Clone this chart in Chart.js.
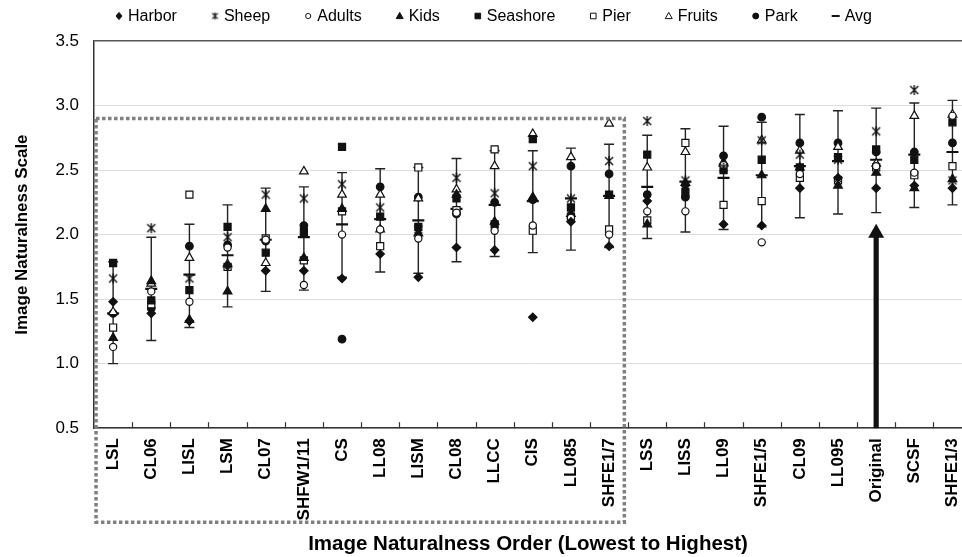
<!DOCTYPE html>
<html>
<head>
<meta charset="utf-8">
<script src="https://cdn.jsdelivr.net/npm/chart.js@4.4.1/dist/chart.umd.min.js"></script>
<style>
  html, body { margin: 0; padding: 0; background: #fff; }
  #wrap { width: 962px; height: 557px; position: relative; }
</style>
</head>
<body>
<div id="wrap"><canvas id="c"></canvas></div>
<script>
// Image conditions, ordered from least to most natural
const categories = ['LSL', 'CL06', 'LISL', 'LSM', 'CL07', 'SHFW1/11', 'CS', 'LL08', 'LISM', 'CL08', 'LLCC', 'CIS', 'LL085', 'SHFE1/7',
                    'LSS', 'LISS', 'LL09', 'SHFE1/5', 'CL09', 'LL095', 'Original', 'SCSF', 'SHFE1/3'];

// Mean naturalness rating per scene
const harbor   = [1.48, 1.39, 1.33, 1.76, 1.72, 1.72, 1.66, 1.85, 1.67, 1.90, 1.88, 1.36, 2.10, 1.91, 2.26, 2.38, 2.08, 2.07, 2.36, 2.44, 2.36, 2.38, 2.36];
const sheep    = [1.66, 2.05, 1.66, 1.98, 2.31, 2.28, 2.39, 2.21, 2.04, 2.44, 2.32, 2.53, 2.28, 2.57, 2.88, 2.42, 2.52, 2.73, 2.62, 2.58, 2.80, 3.12, 2.42];
const adults   = [1.13, 1.56, 1.48, 1.90, 1.96, 1.61, 2.00, 2.04, 1.97, 2.17, 2.03, 2.07, 2.13, 2.00, 2.18, 2.18, 2.54, 1.94, 2.47, 2.43, 2.53, 2.48, 2.92];
const kids     = [1.20, 1.64, 1.34, 1.56, 2.20, 1.82, 2.20, 2.04, 2.01, 2.31, 2.10, 2.29, 2.16, 2.30, 2.08, 2.40, 2.56, 2.46, 2.52, 2.38, 2.48, 2.36, 2.43];
const seashore = [1.78, 1.49, 1.57, 2.06, 1.86, 2.02, 2.68, 2.14, 2.06, 2.28, 2.08, 2.74, 2.21, 2.31, 2.62, 2.33, 2.50, 2.58, 2.52, 2.60, 2.66, 2.58, 2.87];
const pier     = [1.28, 1.46, 2.31, 1.75, 1.97, 1.80, 2.18, 1.91, 2.52, 2.19, 2.66, 2.03, 2.14, 2.04, 2.11, 2.71, 2.23, 2.26, 2.44, 2.42, 2.52, 2.46, 2.53];
const fruits   = [1.40, 1.62, 1.82, 1.77, 1.78, 2.49, 2.31, 2.31, 2.28, 2.35, 2.53, 2.78, 2.60, 2.86, 2.52, 2.64, 2.55, 2.73, 2.65, 2.68, 2.55, 2.92, 2.93];
const park     = [1.39, 1.43, 1.91, 1.92, 1.95, 2.07, 1.19, 2.37, 2.29, 2.16, 2.25, 2.27, 2.53, 2.47, 2.31, 2.29, 2.61, 2.91, 2.71, 2.71, 2.64, 2.64, 2.71];

// Average over all scenes with the ends of its interval
const avg      = [1.39, 1.58, 1.69, 1.84, 1.96, 1.98, 2.08, 2.12, 2.11, 2.20, 2.23, 2.26, 2.28, 2.30, 2.37, 2.41, 2.44, 2.46, 2.53, 2.57, 2.58, 2.62, 2.64];
const errHigh  = [1.79, 1.98, 2.08, 2.23, 2.36, 2.37, 2.48, 2.51, 2.52, 2.59, 2.65, 2.65, 2.67, 2.70, 2.77, 2.82, 2.84, 2.87, 2.93, 2.96, 2.98, 3.02, 3.04];
const errLow   = [1.00, 1.18, 1.28, 1.44, 1.56, 1.57, 1.67, 1.71, 1.70, 1.79, 1.83, 1.86, 1.88, 1.90, 1.97, 2.02, 2.04, 2.06, 2.13, 2.16, 2.17, 2.21, 2.23];

const yTicks = [0.5, 1.0, 1.5, 2.0, 2.5, 3.0, 3.5];

// Marked group of low-naturalness conditions and the pointer to the original image
const groupLastIndex = 13;
const groupTopValue = 2.9;
const arrowIndex = categories.indexOf('Original');
const arrowTipValue = 2.085;

const FONT = "'Liberation Sans', Arial, sans-serif";
const INK = '#111';

function starCanvas(size, lw) {
  const c = document.createElement('canvas');
  c.width = size; c.height = size;
  const g = c.getContext('2d');
  const m = size / 2, r = size / 2 - 1;
  const d = r * 0.8;
  g.strokeStyle = INK; g.lineWidth = lw; g.lineCap = 'butt';
  g.beginPath();
  g.moveTo(m - d, m - d); g.lineTo(m + d, m + d);
  g.moveTo(m + d, m - d); g.lineTo(m - d, m + d);
  g.moveTo(m, m - r); g.lineTo(m, m + r);
  g.stroke();
  return c;
}
const starBig = starCanvas(12, 1.4);
const starSmall = starCanvas(9, 1.2);

const toPoints = arr => arr.map((v, i) => ({ x: i, y: v }));

function series(label, values, style, filled, radius) {
  return {
    label,
    data: toPoints(values),
    pointStyle: style,
    pointRadius: radius,
    pointHoverRadius: radius,
    pointBorderWidth: 1.2,
    borderColor: INK,
    backgroundColor: filled ? INK : '#fff',
    pointBackgroundColor: filled ? INK : '#fff',
    pointBorderColor: INK,
    showLine: false
  };
}

const datasets = [
  series('Harbor', harbor, 'rectRot', true, 4.2),
  series('Sheep', sheep, starBig, true, 5),
  series('Adults', adults, 'circle', false, 3.6),
  series('Kids', kids, 'triangle', true, 5),
  series('Seashore', seashore, 'rect', true, 5),
  series('Pier', pier, 'rect', false, 5),
  series('Fruits', fruits, 'triangle', false, 5),
  series('Park', park, 'circle', true, 3.8),
  Object.assign(series('Avg', avg, 'line', true, 6), { pointBorderWidth: 2.2 })
];

// Small legend marker in the style of each series
function legendMarker(ctx, ds, x, y) {
  const filled = ds.pointBackgroundColor === INK;
  ctx.save();
  ctx.fillStyle = filled ? INK : '#fff';
  ctx.strokeStyle = INK;
  ctx.lineWidth = 1;
  const s = ds.pointStyle;
  ctx.beginPath();
  if (s === starBig) {
    ctx.drawImage(starSmall, x - starSmall.width / 2, y - starSmall.height / 2);
    ctx.restore();
    return;
  } else if (s === 'rectRot') {
    ctx.moveTo(x, y - 3.6); ctx.lineTo(x + 3, y); ctx.lineTo(x, y + 3.6); ctx.lineTo(x - 3, y); ctx.closePath();
  } else if (s === 'circle') {
    ctx.arc(x, y, filled ? 3 : 2.6, 0, Math.PI * 2);
  } else if (s === 'triangle') {
    ctx.moveTo(x, y - 3.6); ctx.lineTo(x + 3.5, y + 2.6); ctx.lineTo(x - 3.5, y + 2.6); ctx.closePath();
  } else if (s === 'rect') {
    ctx.rect(x - 2.8, y - 2.8, 5.6, 5.6);
  } else if (s === 'line') {
    ctx.lineWidth = 2;
    ctx.moveTo(x - 4, y); ctx.lineTo(x + 4, y);
    ctx.stroke();
    ctx.restore();
    return;
  }
  ctx.fill();
  ctx.stroke();
  ctx.restore();
}

// Legend row across the top
const topLegend = {
  id: 'topLegend',
  afterDraw(chart) {
    const { ctx, chartArea } = chart;
    ctx.save();
    ctx.font = '16px ' + FONT;
    ctx.textBaseline = 'middle';
    ctx.textAlign = 'left';
    ctx.fillStyle = '#000';
    const y = 16;
    let x = chartArea.left + 25;
    chart.data.datasets.forEach(ds => {
      legendMarker(ctx, ds, x, y);
      ctx.fillText(ds.label, x + 9, y + 1);
      x += 9 + ctx.measureText(ds.label).width + 38;
    });
    ctx.restore();
  }
};

// Vertical interval bars with caps behind the markers
const errorBars = {
  id: 'errorBars',
  beforeDatasetsDraw(chart) {
    const { ctx, scales: { x, y } } = chart;
    ctx.save();
    ctx.strokeStyle = '#222';
    ctx.lineWidth = 1.4;
    avg.forEach((v, i) => {
      const px = x.getPixelForValue(i);
      const top = y.getPixelForValue(errHigh[i]);
      const bot = y.getPixelForValue(errLow[i]);
      ctx.beginPath();
      ctx.moveTo(px, top); ctx.lineTo(px, bot);
      ctx.moveTo(px - 5, top); ctx.lineTo(px + 5, top);
      ctx.moveTo(px - 5, bot); ctx.lineTo(px + 5, bot);
      ctx.stroke();
    });
    ctx.restore();
  }
};

// Short inward tick marks between the conditions
const xTickMarks = {
  id: 'xTickMarks',
  afterDatasetsDraw(chart) {
    const { ctx, chartArea, scales: { x } } = chart;
    ctx.save();
    ctx.strokeStyle = '#333';
    ctx.lineWidth = 1.2;
    for (let i = 0; i < categories.length; i++) {
      const px = Math.round(x.getPixelForValue(i + 0.5)) + 0.5;
      if (px > chartArea.right) continue;
      ctx.beginPath();
      ctx.moveTo(px, chartArea.bottom);
      ctx.lineTo(px, chartArea.bottom - 6);
      ctx.stroke();
    }
    ctx.restore();
  }
};

// Arrow pointing up at the original image
const arrow = {
  id: 'arrow',
  afterDatasetsDraw(chart) {
    const { ctx, chartArea, scales: { x, y } } = chart;
    const px = x.getPixelForValue(arrowIndex);
    const tip = y.getPixelForValue(arrowTipValue);
    const headH = 14, headW = 8, shaft = 2.6;
    ctx.save();
    ctx.fillStyle = '#111';
    ctx.fillRect(px - shaft, tip + headH - 1, shaft * 2, chartArea.bottom - tip - headH + 1);
    ctx.beginPath();
    ctx.moveTo(px, tip);
    ctx.lineTo(px + headW, tip + headH);
    ctx.lineTo(px - headW, tip + headH);
    ctx.closePath();
    ctx.fill();
    ctx.restore();
  }
};

// Dotted frame around the low group, reaching down over its labels
const groupFrame = {
  id: 'groupFrame',
  afterDraw(chart) {
    const { ctx, chartArea, scales: { x, y } } = chart;
    const left = chartArea.left + 2;
    const right = x.getPixelForValue(groupLastIndex + 0.4);
    const top = y.getPixelForValue(groupTopValue);
    const bottom = chartArea.bottom + 94;
    ctx.save();
    ctx.strokeStyle = '#808080';
    ctx.lineWidth = 3.5;
    ctx.setLineDash([3.5, 2.5]);
    ctx.strokeRect(left, top, right - left, bottom - top);
    ctx.restore();
  }
};

new Chart(document.getElementById('c'), {
  type: 'scatter',
  data: { datasets },
  plugins: [errorBars, xTickMarks, arrow, groupFrame, topLegend],
  options: {
    responsive: true,
    maintainAspectRatio: false,
    animation: false,
    events: [],
    layout: { autoPadding: false, padding: { top: 41, left: 0, right: 0, bottom: 0 } },
    plugins: {
      tooltip: { enabled: false },
      legend: { display: false }
    },
    scales: {
      x: {
        type: 'linear',
        min: -0.5,
        max: 22.25,
        afterBuildTicks(scale) {
          scale.ticks = categories.map((c, i) => ({ value: i }));
        },
        // the plot runs on to the right edge of the canvas
        afterFit(scale) {
          scale.paddingRight = 0;
        },
        grid: { display: false, drawTicks: false },
        border: { display: true, color: '#333', width: 1.5 },
        ticks: {
          autoSkip: false,
          minRotation: 90,
          maxRotation: 90,
          padding: 10,
          color: '#000',
          font: { family: FONT, size: 17, weight: 'bold' },
          callback: v => categories[v]
        },
        title: {
          display: true,
          text: 'Image Naturalness Order (Lowest to Highest)',
          color: '#000',
          font: { family: FONT, size: 20.5, weight: 'bold' },
          padding: { top: 2, bottom: 0 }
        }
      },
      y: {
        min: 0.5,
        max: 3.5,
        afterBuildTicks(scale) {
          scale.ticks = yTicks.map(v => ({ value: v }));
        },
        grid: {
          drawTicks: false,
          color: ctx => (ctx.tick && ctx.tick.value === 3.5 ? '#555' : '#dcdcdc'),
          lineWidth: ctx => (ctx.tick && ctx.tick.value === 3.5 ? 1.5 : 1)
        },
        border: { display: true, color: '#333', width: 1.5 },
        ticks: {
          padding: 15,
          color: '#000',
          font: { family: FONT, size: 17 },
          callback: v => v.toFixed(1)
        },
        title: {
          display: true,
          text: 'Image Naturalness Scale',
          color: '#000',
          font: { family: FONT, size: 17, weight: 'bold' },
          padding: { top: 12, bottom: 8 }
        }
      }
    }
  }
});
</script>
</body>
</html>
